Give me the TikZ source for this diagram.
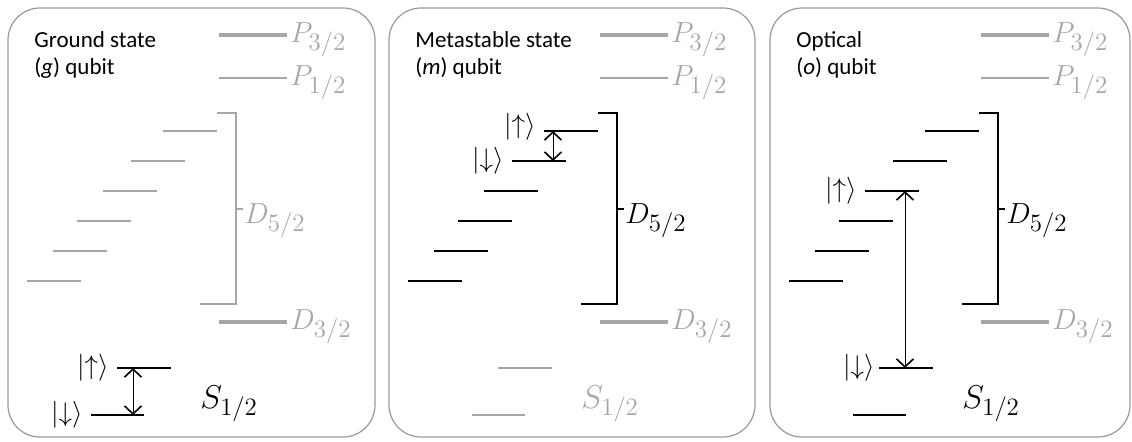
\RequirePackage{fix-cm}
\documentclass[tikz,border=0pt]{standalone}
\usepackage{fontspec}
\newfontfamily\titlefont{Carlito}
\usetikzlibrary{arrows.meta}
\DeclareMathSizes{14.5}{14.5}{12.5}{9}
\DeclareMathSizes{16.5}{16.5}{12.5}{10}
\DeclareMathSizes{13.5}{13.5}{10}{7}

\begin{document}
\begin{tikzpicture}[x=0.5pt, y=-0.5pt, >={Straight Barb[length=4pt, width=8.5pt, line width=0.8pt]},
	off/.style={black!35}, on/.style={black},
	lvl/.style={line width=1pt}, fine lvl/.style={line width=0.75pt}, heavy lvl/.style={line width=1.6pt},
	panel/.style={draw=black!40, line width=0.6pt, rounded corners=16pt},
	term/.style={font=\fontsize{14.5}{16}\selectfont, anchor=base west, inner sep=0pt},
	sterm/.style={font=\fontsize{16.5}{19}\selectfont, anchor=base west, inner sep=0pt},
	ket/.style={font=\fontsize{13.5}{15}\selectfont, anchor=east, inner sep=4pt},
	title/.style={font=\titlefont\fontsize{11.5}{13.7}\selectfont, align=left, anchor=north west, inner sep=0pt}]
	\useasboundingbox (0,0) rectangle (1132,441);
	\foreach \p/\w/\dc/\sc in {0/367/off/on, 1/366/on/off, 2/360/on/on} {
		\begin{scope}[xshift={\p*190.5pt}]
		\draw[panel] (8,8) rectangle ++(\w,429);
		% P and D_{3/2} terms, always off
		\draw[off, heavy lvl] (219,35) -- (287,35);
		\node[term, off] (P3\p) at (290,42) {$P_{3/2}$};
		\draw[off, fine lvl] (219,78) -- (287,78);
		\node[term, off] (P1\p) at (290,85) {$P_{1/2}$};
		\draw[off, heavy lvl] (219,322) -- (287,322);
		\node[term, off] (D3\p) at (290,329) {$D_{3/2}$};
		% D_{5/2} Zeeman ladder
		\foreach \x [count=\k] in {163,131,103,77,53,27}
			\draw[\dc, lvl] (\x,101+30*\k) coordinate (z\p\k) -- ++(54,0);
		\draw[\dc, lvl] (217,113) -- (236,113) -- (236,304) -- (200,304);
		\draw[\dc, lvl] (236,208.5) -- (243,208.5);
		\node[term, \dc] (D5\p) at (244,223) {$D_{5/2}$};
		% S_{1/2}
		\draw[\sc, lvl] (117,368) coordinate (su\p) -- ++(54,0);
		\draw[\sc, lvl] (91,415) coordinate (sd\p) -- ++(53,0);
		\node[sterm, \sc] (S\p) at (200,408) {$S_{1/2}$};
		\end{scope}
	}
	\node[title] (t0) at (34,31) {Ground state\\(\textit{g}) qubit};
	\node[title] (t1) at (415,31) {Metastable state\\(\textit{m}) qubit};
	\node[title] (t2) at (796,31) {Optical\\(\textit{o}) qubit};
	% qubit states
	\node[ket] (up0) at (su0) {$|{\uparrow}\rangle$};
	\node[ket] (dn0) at (sd0) {$|{\downarrow}\rangle$};
	\path (su0) ++(16,0) coordinate (a0);
	\draw[<->, line width=0.5pt] (a0) -- (a0 |- sd0);
	\node[ket, yshift=2pt] (up1) at (z11) {$|{\uparrow}\rangle$};
	\node[ket] (dn1) at (z12) {$|{\downarrow}\rangle$};
	\path (z11) ++(9,0) coordinate (a1);
	\draw[<->, line width=0.5pt] (a1) -- (a1 |- z12);
	\node[ket] (up2) at (z23) {$|{\uparrow}\rangle$};
	\node[ket, inner sep=2pt] (dn2) at (su2) {$|{\downarrow}\rangle$};
	\path (z23) ++(40,0) coordinate (a2);
	\draw[<->, line width=0.5pt] (a2) -- (a2 |- su2);
\end{tikzpicture}
\end{document}
